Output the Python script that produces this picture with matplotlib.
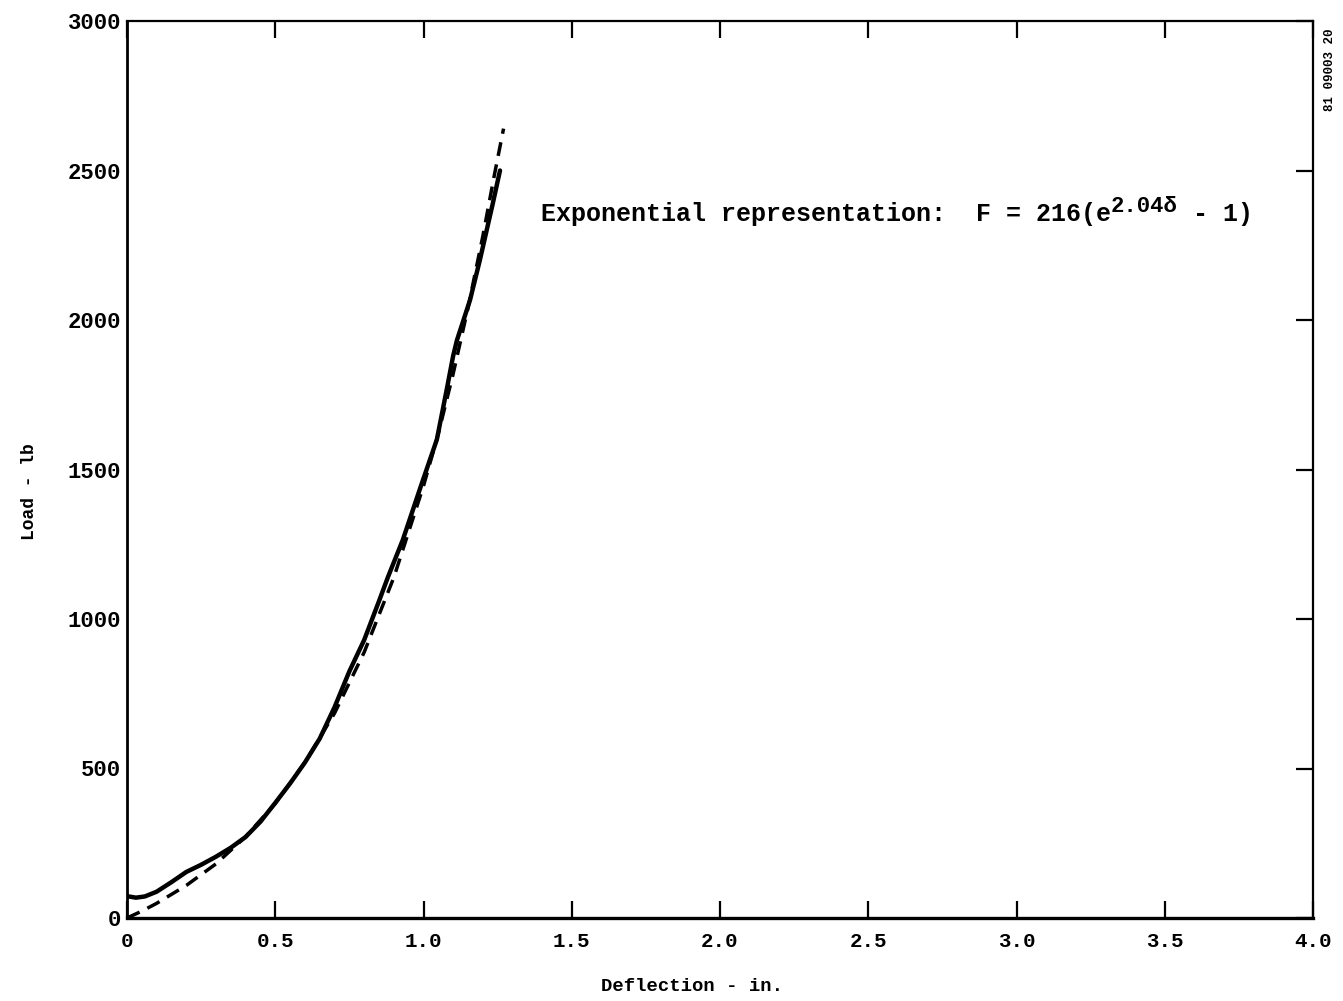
import matplotlib
matplotlib.use("Agg")
import matplotlib.pyplot as plt

# Measured load-deflection curve (solid)
meas_defl = [0.0, 0.03, 0.06, 0.10, 0.15, 0.20, 0.25, 0.30, 0.35, 0.40, 0.45,
             0.50, 0.55, 0.60, 0.65, 0.70, 0.75, 0.80, 0.85, 0.88, 0.93, 0.99,
             1.045, 1.08, 1.10, 1.113, 1.157, 1.19, 1.234, 1.258]
meas_load = [73, 68, 72, 88, 120, 154, 178, 205, 235, 271, 322,
             385, 450, 520, 600, 705, 825, 930, 1060, 1140, 1264, 1441,
             1600, 1776, 1880, 1933, 2067, 2200, 2391, 2500]

# Exponential representation (dashed)
fit_defl = [0.0, 0.05, 0.10, 0.20, 0.30, 0.40, 0.50, 0.60, 0.70, 0.80, 0.90,
            1.00, 1.05, 1.10, 1.15, 1.20, 1.24, 1.27]
fit_load = [0, 23, 49, 109, 181, 272, 383, 520, 685, 889, 1139,
            1445, 1620, 1820, 2040, 2280, 2490, 2640]

x_ticks = [0, 0.5, 1.0, 1.5, 2.0, 2.5, 3.0, 3.5, 4.0]
x_tick_labels = ["0", "0.5", "1.0", "1.5", "2.0", "2.5", "3.0", "3.5", "4.0"]
y_ticks = [0, 500, 1000, 1500, 2000, 2500, 3000]
y_tick_labels = ["0", "500", "1000", "1500", "2000", "2500", "3000"]

FONT = ["Liberation Mono", "DejaVu Sans Mono"]
plt.rcParams["font.family"] = FONT
plt.rcParams["font.weight"] = "bold"
plt.rcParams["axes.labelweight"] = "bold"

fig = plt.figure(figsize=(13.43, 10.01), dpi=100)
ax = fig.add_axes([127 / 1343, 1 - 918 / 1001, (1313 - 127) / 1343, (918 - 21) / 1001])

ax.plot(meas_defl, meas_load, color="black", lw=3.2, solid_capstyle="round")
ax.plot(fit_defl, fit_load, color="black", lw=2.5, linestyle=(0, (4, 2.5)))

ax.set_xlim(0, 4.0)
ax.set_ylim(0, 3000)
ax.set_xticks(x_ticks)
ax.set_xticklabels(x_tick_labels)
ax.set_yticks(y_ticks)
ax.set_yticklabels(y_tick_labels)

ax.tick_params(axis="x", direction="in", top=True, bottom=True, length=12,
               width=1.6, labelsize=15, pad=10)
ax.tick_params(axis="y", direction="in", left=False, right=True, labelleft=True,
               length=12, width=1.6, labelsize=16, pad=4)

ax.spines["left"].set_linewidth(2.0)
ax.spines["bottom"].set_linewidth(2.4)
for side in ["right", "top"]:
    ax.spines[side].set_linewidth(1.6)

ax.set_xlabel("Deflection - in.", fontsize=13.6, fontweight="bold")
ax.xaxis.set_label_coords((692 - 127) / 1186, (918 - 978) / 897)
ax.set_ylabel("Load - lb", fontsize=13, va="center", fontweight="bold")
ax.yaxis.set_label_coords((30 - 127) / 1186, (918 - 492) / 897)

t1 = ax.text(1.396, 2330, "Exponential representation:  F = 216(e",
             fontsize=18, ha="left", va="baseline")
t2 = ax.annotate("2.04\u03b4", xy=(1, 0), xycoords=t1, xytext=(0, 6.5),
                 textcoords="offset points", fontsize=16, ha="left", va="bottom")
t3 = ax.annotate(" - 1)", xy=(1, 0), xycoords=t2, xytext=(0, -6.5),
                 textcoords="offset points", fontsize=18, ha="left", va="bottom")

fig.text(1330 / 1343, 1 - 70 / 1001, "81 09003 20", rotation=90, fontsize=9,
         fontweight="bold", ha="center", va="center")

fig.savefig("out.png", dpi=100)
